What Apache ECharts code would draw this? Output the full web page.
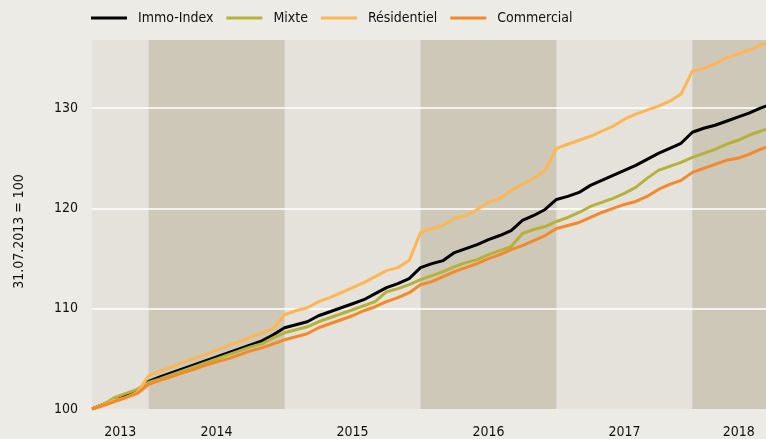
<!DOCTYPE html>
<html>
<head>
<meta charset="utf-8">
<title>Immo-Index</title>
<script src="https://cdn.jsdelivr.net/npm/echarts@6/dist/echarts.min.js"></script>
<style>
  html, body { margin: 0; padding: 0; background: #edebe6; }
  #chart { width: 766px; height: 439px; }
</style>
</head>
<body>
<div id="chart"></div>
<script>
// monthly index values, month 0 = 31.07.2013
const immoIndex = [
  100.0, 100.45, 100.95, 101.4, 101.9, 102.75, 103.2, 103.6, 104.0, 104.4,
  104.8, 105.2, 105.6, 106.0, 106.4, 106.8, 107.4, 108.1, 108.4, 108.7,
  109.3, 109.7, 110.1, 110.5, 110.9, 111.5, 112.1, 112.5, 113.0, 114.1,
  114.5, 114.8, 115.6, 116.0, 116.4, 116.9, 117.3, 117.8, 118.8, 119.3,
  119.9, 120.9, 121.2, 121.6, 122.3, 122.8, 123.3, 123.8, 124.3, 124.9,
  125.5, 126.0, 126.5, 127.6, 128.0, 128.3, 128.7, 129.1, 129.5, 130.0, 130.4
]
const mixte = [
  100.0, 100.45, 101.15, 101.55, 101.95, 102.65, 103.0, 103.4, 103.8, 104.2,
  104.6, 105.0, 105.4, 105.8, 106.2, 106.5, 107.1, 107.6, 107.9, 108.2,
  108.7, 109.1, 109.5, 109.9, 110.3, 110.7, 111.7, 112.0, 112.4, 112.9,
  113.3, 113.7, 114.2, 114.6, 114.9, 115.4, 115.8, 116.2, 117.5, 117.9,
  118.2, 118.7, 119.1, 119.6, 120.2, 120.6, 121.0, 121.5, 122.1, 123.0,
  123.8, 124.2, 124.6, 125.1, 125.5, 125.9, 126.4, 126.8, 127.3, 127.7, 128.1
]
const residentiel = [
  100.0, 100.4, 100.85, 101.15, 101.65, 103.3, 103.77, 104.18, 104.63, 105.02,
  105.42, 105.87, 106.32, 106.72, 107.16, 107.56, 108.01, 109.4, 109.8, 110.1,
  110.7, 111.1, 111.6, 112.1, 112.6, 113.2, 113.8, 114.1, 114.8, 117.6,
  118.0, 118.3, 119.0, 119.3, 119.9, 120.6, 121.0, 121.8, 122.4, 123.0,
  123.8, 126.0, 126.4, 126.8, 127.2, 127.7, 128.2, 128.9, 129.4, 129.8,
  130.2, 130.7, 131.4, 133.7, 134.0, 134.4, 135.0, 135.4, 135.8, 136.3, 136.7
]
const commercial = [
  100.0, 100.35, 100.75, 101.15, 101.55, 102.45, 102.85, 103.2, 103.6, 103.95,
  104.35, 104.7, 105.0, 105.4, 105.8, 106.1, 106.5, 106.9, 107.2, 107.5,
  108.1, 108.5, 108.9, 109.3, 109.8, 110.2, 110.7, 111.1, 111.6, 112.4,
  112.7, 113.2, 113.7, 114.1, 114.5, 115.0, 115.4, 115.9, 116.3, 116.8,
  117.3, 118.0, 118.3, 118.6, 119.1, 119.6, 120.0, 120.4, 120.7, 121.2,
  121.9, 122.4, 122.8, 123.6, 124.0, 124.4, 124.8, 125.0, 125.4, 125.9, 126.3
]
const years = ['2013', '2014', '2015', '2016', '2017', '2018']
const seriesNames = ['Immo-Index', 'Mixte', 'Résidentiel', 'Commercial']
const yTicks = [100, 110, 120, 130]

const colors = ['#000000', '#b4b23a', '#fdb654', '#f5892a']
const font = "'DejaVu Sans Condensed', 'DejaVu Sans', sans-serif"
const xMax = 59.5

// month offset where each year starts (Jan 2014 = month 5)
const yearStart = (k) => 5 + 12 * (k - 1)
const labelPos = years.map((y, k) => {
    if (k === 0) return 2.5
    if (k === years.length - 1) return 57.1
    return yearStart(k) + 6
})

const bands = []
for (let k = 1; k < years.length; k += 2) {
    bands.push([{ xAxis: yearStart(k) }, { xAxis: Math.min(yearStart(k) + 12, xMax) }])
}

const allData = [immoIndex, mixte, residentiel, commercial]

const chart = echarts.init(document.getElementById('chart'))
chart.setOption({
    backgroundColor: '#edebe6',
    animation: false,
    textStyle: { fontFamily: font },
    legend: {
        left: 86,
        top: 6,
        icon: 'rect',
        itemWidth: 36,
        itemHeight: 3,
        itemGap: 13,
        textStyle: { fontSize: 14, color: '#111', fontFamily: font, padding: [0, 0, 0, 6] },
        data: seriesNames
    },
    grid: {
        left: 92,
        right: 0,
        top: 40,
        bottom: 29,
        show: true,
        backgroundColor: '#e4e2db',
        borderWidth: 0
    },
    xAxis: {
        type: 'value',
        min: 0,
        max: xMax,
        axisLine: { show: false },
        axisTick: { show: false },
        splitLine: { show: false },
        axisLabel: {
            customValues: labelPos,
            formatter: (v) => years[labelPos.indexOf(v)],
            fontSize: 14,
            color: '#111',
            margin: 16
        }
    },
    yAxis: {
        type: 'value',
        min: 100,
        max: 136.8,
        interval: 10,
        name: '31.07.2013 = 100',
        nameLocation: 'middle',
        nameGap: 66,
        nameTextStyle: { fontSize: 14, color: '#111', padding: [0, 14, 0, 0] },
        axisLine: { show: false },
        axisTick: { show: false },
        splitLine: { show: false },
        axisLabel: {
            fontSize: 14,
            color: '#111',
            margin: 14,
            showMaxLabel: false
        }
    },
    series: seriesNames.map((name, s) => ({
        name,
        type: 'line',
        data: allData[s].map((v, i) => [i, v]),
        showSymbol: false,
        symbol: 'none',
        color: colors[s],
        lineStyle: { width: 3, color: colors[s] },
        z: 3 + s,
        markArea: s === 0 ? {
            silent: true,
            z: 1,
            itemStyle: { color: '#cec8b9' },
            data: bands
        } : undefined,
        markLine: s === 0 ? {
            silent: true,
            z: 2,
            symbol: 'none',
            label: { show: false },
            lineStyle: { color: '#ffffff', width: 1.5, type: 'solid' },
            data: yTicks.slice(1).map((t) => ({ yAxis: t }))
        } : undefined
    }))
})
</script>
</body>
</html>
